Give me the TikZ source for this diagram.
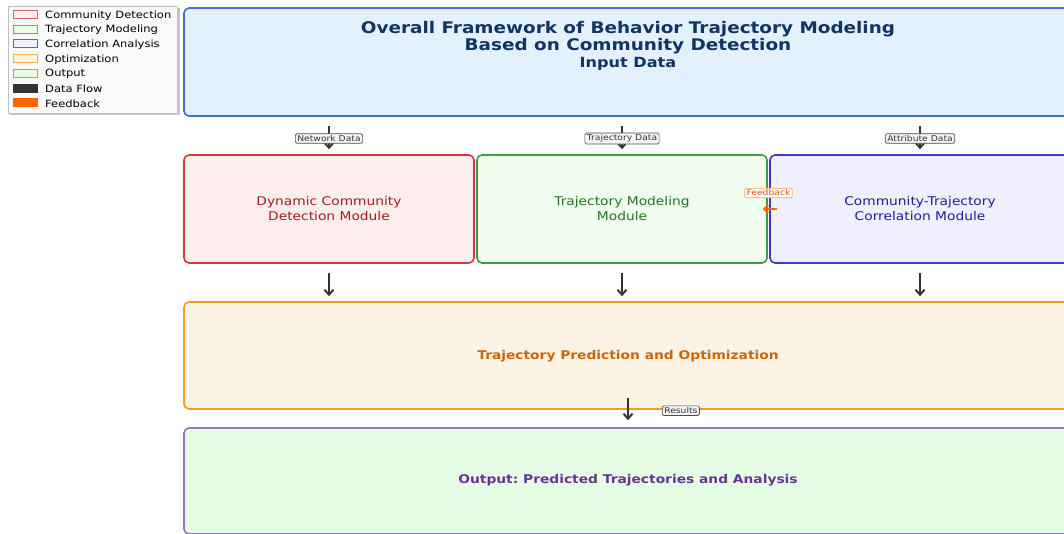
\documentclass[tikz,border=0pt]{standalone}
\usepackage{fontspec}
\setmainfont{DejaVu Sans}
\usetikzlibrary{arrows.meta}
\frenchspacing

% box colours
\definecolor{inedge}{RGB}{62,112,204}
\definecolor{infill}{RGB}{227,240,253}
\definecolor{navy}{RGB}{16,52,100}
\definecolor{rededge}{RGB}{206,62,62}
\definecolor{redfill}{RGB}{253,238,238}
\definecolor{redtext}{RGB}{160,30,30}
\definecolor{grnedge}{RGB}{62,156,62}
\definecolor{grnfill}{RGB}{239,253,239}
\definecolor{grntext}{RGB}{30,118,30}
\definecolor{bluedge}{RGB}{60,60,192}
\definecolor{blufill}{RGB}{239,239,253}
\definecolor{blutext}{RGB}{30,30,160}
\definecolor{optedge}{RGB}{243,158,30}
\definecolor{optfill}{RGB}{253,243,229}
\definecolor{opttext}{RGB}{204,102,10}
\definecolor{outedge}{RGB}{156,112,204}
\definecolor{outfill}{RGB}{229,253,229}
\definecolor{outtext}{RGB}{102,51,153}
\definecolor{flowgray}{RGB}{51,51,51}
\definecolor{fborange}{RGB}{255,102,0}

\tikzset{
  box/.style={draw, rounded corners=5pt, line width=1.6pt, inner sep=0pt},
  lbl/.style={xscale=1.15, align=center, inner sep=0pt},
  tag/.style={draw=black!70, fill=black!4, rounded corners=1.5pt, inner sep=1.7pt,
    line width=0.7pt, text=black!80, xscale=1.15, font=\fontsize{8}{9}\selectfont},
  flow/.style={draw=flowgray, line width=2pt, -{Straight Barb[length=5pt,width=9pt]}},
  swatch/.style={minimum width=24pt, minimum height=8pt, inner sep=0pt, line width=0.8pt},
}

\begin{document}
\begin{tikzpicture}[x=1pt,y=-1pt]
  \useasboundingbox (0,0) rectangle (1064,534);
  \clip (0,0) rectangle (1064,534);

  % legend with its shadow
  \fill[black!22] (10,8) rectangle (179.5,115.5);
  \draw[black!25, fill=black!2, line width=0.7pt] (8,6) rectangle (177,113);
  \foreach \edge/\fillc/\name [count=\i] in {
      rededge!80/redfill/Community Detection,
      grnedge!80/grnfill/Trajectory Modeling,
      bluedge!80/blufill/Correlation Analysis,
      optedge!80/optfill/Optimization,
      outedge!80/outfill/Output,
      flowgray/flowgray/Data Flow,
      fborange/fborange/Feedback}{
    \node[swatch, draw=\edge, fill=\fillc] (sw\i) at (25,{14.5+14.7*(\i-1)}) {};
    \node[lbl, anchor=west, font=\fontsize{10}{12}\selectfont] (key\i) at (45,{15.5+14.7*(\i-1)}) {\name};
  }

  % input box
  \node[box, draw=inedge, fill=infill, minimum width=888pt, minimum height=108pt] (input) at (628,62) {};
  \node[lbl, text=navy, font=\fontsize{16}{17}\selectfont\bfseries] (title) at (628,37.5)
    {Overall Framework of Behavior Trajectory Modeling\\Based on Community Detection};
  \node[lbl, text=navy, font=\fontsize{14}{16}\selectfont\bfseries] (inlabel) at (628,63.5) {Input Data};

  % the three modules
  \node[box, draw=rededge, fill=redfill, minimum width=290pt, minimum height=108pt] (red) at (329,209) {};
  \node[box, draw=grnedge, fill=grnfill, minimum width=290pt, minimum height=108pt] (green) at (622,209) {};
  \node[box, draw=bluedge, fill=blufill, minimum width=300pt, minimum height=108pt] (blue) at (920,209) {};
  \node[lbl, text=redtext, font=\fontsize{12}{15}\selectfont] (redlabel) at (red) {Dynamic Community\\Detection Module};
  \node[lbl, text=grntext, font=\fontsize{12}{15}\selectfont] (greenlabel) at (green) {Trajectory Modeling\\Module};
  \node[lbl, text=blutext, font=\fontsize{12}{15}\selectfont] (bluelabel) at (blue) {Community-Trajectory\\Correlation Module};

  % prediction and output
  \node[box, draw=optedge, fill=optfill, minimum width=888pt, minimum height=107pt] (opt) at (628,355.5) {};
  \node[lbl, text=opttext, font=\fontsize{12}{14}\selectfont\bfseries] (optlabel) at (628,356) {Trajectory Prediction and Optimization};
  \node[box, draw=outedge, fill=outfill, minimum width=888pt, minimum height=106pt] (out) at (628,481) {};
  \node[lbl, text=outtext, font=\fontsize{12}{14}\selectfont\bfseries] (outlabel) at (628,480) {Output: Predicted Trajectories and Analysis};

  % data flow
  \draw[flow, shorten <=9pt, shorten >=5pt] (input.south -| red.north) -- (red.north) node[tag, pos=0.58] {Network Data};
  \draw[flow, shorten <=9pt, shorten >=5pt] (input.south -| green.north) -- (green.north) node[tag, pos=0.58] {Trajectory Data};
  \draw[flow, shorten <=9pt, shorten >=5pt] (input.south -| blue.north) -- (blue.north) node[tag, pos=0.58] {Attribute Data};
  \foreach \m in {red,green,blue}
    \draw[flow, shorten <=9pt, shorten >=5pt] (\m.south) -- (\m.south |- opt.north);
  \draw[flow, shorten <=-12pt, shorten >=7pt] (opt.south) -- (out.north) node[tag, pos=0.05, xshift=46pt] {Results};

  % feedback
  \draw[draw=fborange, line width=2pt, -{Straight Barb[length=4pt,width=8pt]}, shorten <=-8pt, shorten >=-5pt]
    (blue.west) -- (green.east)
    node[tag, midway, yshift=16pt, draw=fborange!60, fill=white, text=fborange!85!black] {Feedback};
\end{tikzpicture}
\end{document}
